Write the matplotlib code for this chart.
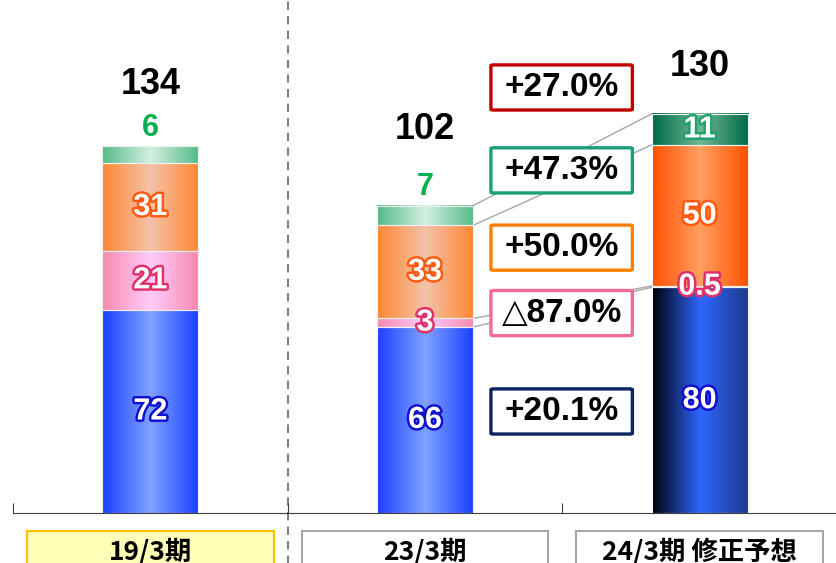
import numpy as np
import matplotlib.pyplot as plt
from matplotlib.colors import LinearSegmentedColormap
from matplotlib.patches import FancyBboxPatch, Rectangle
import matplotlib.patheffects as pe

# data
periods = ["19/3期", "23/3期", "24/3期 修正予想"]
blue_seg = [72, 66, 80]
pink_seg = [21, 3, 0.5]
orange_seg = [31, 33, 50]
green_seg = [6, 7, 11]
totals = [134, 102, 130]
seg_labels = [["72", "21", "31", "6"],
              ["66", "3", "33", "7"],
              ["80", "0.5", "50", "11"]]
changes = ["+27.0%", "+47.3%", "+50.0%", "△87.0%", "+20.1%"]

# styles
grad = {
    "blue": ["#1A40FF", "#80A2FF", "#1A40FF"],
    "blue3": ["#00000A", "#2F66FF", "#1E3A8C"],
    "pink": ["#F78AB0", "#FFCCFA", "#F78AB0"],
    "orange": ["#FF8833", "#F3C2AA", "#FF8833"],
    "orange3": ["#FF5000", "#FFA060", "#FF5000"],
    "green": ["#55BB88", "#D5F0E3", "#55BB88"],
    "green3": ["#006B4C", "#70B890", "#006B4C"],
}
bar_grads = [["blue", "pink", "orange", "green"],
             ["blue", "pink", "orange", "green"],
             ["blue3", "pink", "orange3", "green3"]]
stroke_cols = ["#1010D0", "#E0306A", "#FF5A10", "#1F9F70"]
box_cols = ["#C00000", "#17A07A", "#FF8000", "#F26B97", "#0A2463"]
box_y = [150.9, 121.5, 94.1, 70.9, 36.0]
total_pad = [22, 27, 17]

W = 0.35
fig = plt.figure(figsize=(8.37, 5.63), dpi=100)
ax = fig.add_axes([13 / 837, 50 / 563, 1 - 13 / 837, 513 / 563])

x = np.arange(len(periods))
stack = np.array([blue_seg, pink_seg, orange_seg, green_seg], dtype=float)
bottoms = np.vstack([np.zeros(3), np.cumsum(stack, axis=0)[:-1]])

for k in range(4):
    bars = ax.bar(x, stack[k], W, bottom=bottoms[k], color="none",
                  edgecolor="#F0F0F0", lw=0.8, zorder=3)
    for i, p in enumerate(bars.patches):
        cmap = LinearSegmentedColormap.from_list("g", grad[bar_grads[i][k]])
        ax.imshow(np.linspace(0, 1, 200)[None, :], cmap=cmap, aspect="auto",
                  extent=(p.get_x(), p.get_x() + p.get_width(),
                          p.get_y(), p.get_y() + p.get_height()),
                  zorder=2, interpolation="bilinear")

font = ["Liberation Sans", "DejaVu Sans"]
for i in range(3):
    for k in range(4):
        lab = seg_labels[i][k]
        if k == 3 and stack[k][i] < 8:
            ax.text(x[i], bottoms[k][i] + stack[k][i] + 1.2, lab, ha="center",
                    va="bottom", fontsize=22, fontweight="bold", color="#00B050",
                    family=font, zorder=5)
        else:
            ax.text(x[i], bottoms[k][i] + stack[k][i] / 2, lab, ha="center",
                    va="center", fontsize=22, fontweight="bold", color="white",
                    family=font, zorder=5,
                    path_effects=[pe.withStroke(linewidth=3.5, foreground=stroke_cols[k])])
    top = bottoms[3][i] + stack[3][i]
    ax.text(x[i], top + total_pad[i], str(totals[i]), ha="center", va="center",
            fontsize=26, fontweight="bold", color="black", family=font, zorder=5)

# connector lines between 23/3 and 24/3
cum = np.cumsum(stack, axis=0)
for k in range(4):
    ax.plot([x[1] + W / 2, x[2] - W / 2], [cum[k][1], cum[k][2]],
            color="#A6A6A6", lw=1, zorder=1)

# change boxes
bx0, bx1, bh = 1.24, 1.755, 16
for txt, col, yc in zip(changes, box_cols, box_y):
    ax.add_patch(FancyBboxPatch((bx0, yc - bh / 2), bx1 - bx0, bh,
                                boxstyle="round,pad=0,rounding_size=0.01",
                                fc="white", ec=col, lw=2.4, zorder=4,
                                mutation_aspect=30))
    ax.text((bx0 + bx1) / 2, yc, txt, ha="center", va="center", fontsize=24,
            fontweight="bold", color="black", family=font, zorder=5)

# dashed divider
ax.plot([0.5, 0.5], [-0.1, 1], transform=ax.get_xaxis_transform(),
        color="#808080", lw=1.5, ls=(0, (4, 3)), clip_on=False, zorder=1)

# category boxes
for i, name in enumerate(periods):
    fc, ec = ("#FFFFB8", "#FFC000") if i == 0 else ("white", "#A6A6A6")
    ax.add_patch(Rectangle((x[i] - 0.449, -25), 0.898, 18.6, fc=fc, ec=ec,
                           lw=1.5, clip_on=False, zorder=1))
    ax.text(x[i], -9.0, name, ha="center", va="top", fontsize=19,
            fontweight="bold", color="black",
            family=["Noto Sans CJK JP", "DejaVu Sans"], clip_on=False)

ax.set_xlim(-0.5, 2.45)
ax.set_ylim(0, 513 / 2.82)
for s in ["left", "top", "right"]:
    ax.spines[s].set_visible(False)
ax.spines["bottom"].set_color("#404040")
ax.set_xticks([-0.5, 0.5, 1.5, 2.5])
ax.tick_params(axis="x", direction="in", length=7, color="#404040",
               labelbottom=False)
ax.set_yticks([])

fig.savefig("out.png", dpi=100)
